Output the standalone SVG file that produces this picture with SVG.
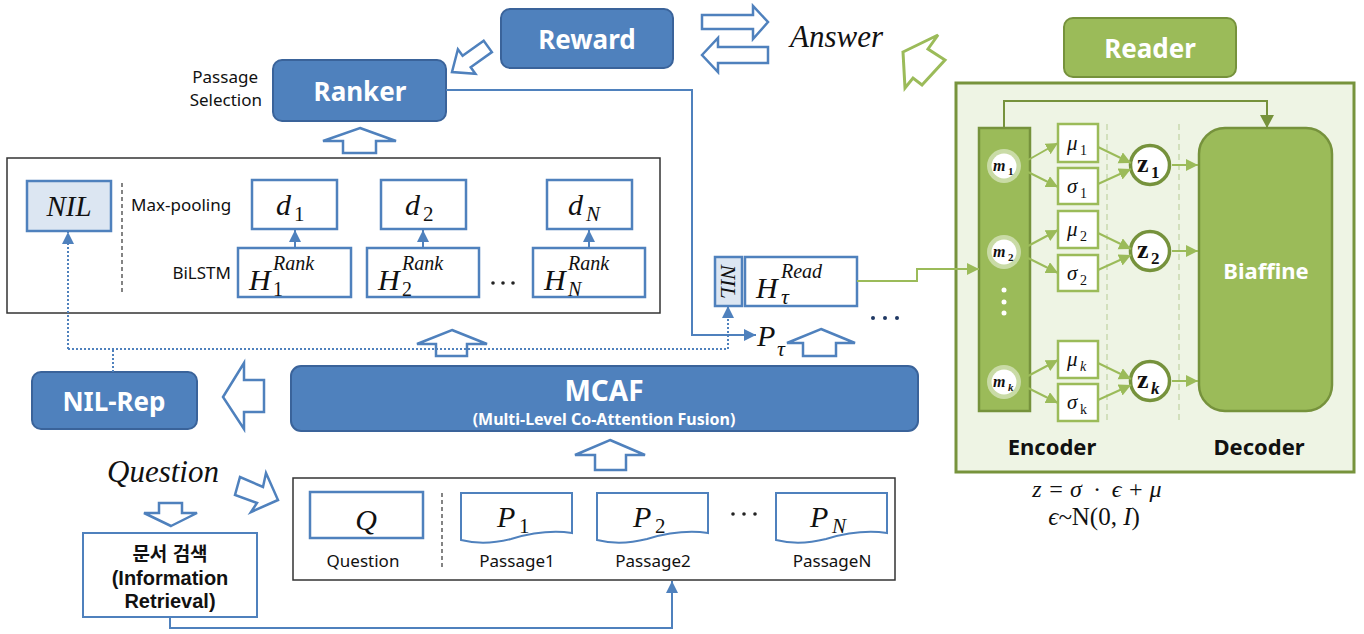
<svg xmlns="http://www.w3.org/2000/svg" width="1364" height="634" viewBox="0 0 1364 634">
  <style>
    .sans { font-family: "Noto Sans", "Noto Sans CJK KR", sans-serif; }
    .lbl { font-family: "Noto Sans", "Noto Sans CJK KR", sans-serif; font-size: 17px; fill: #111; }
    .bw { font-family: "Noto Sans", sans-serif; font-weight: bold; fill: #fff; text-anchor: middle; }
    .mi { font-family: "Liberation Serif", "DejaVu Serif", serif; font-style: italic; fill: #111; }
    .mu { font-family: "Liberation Serif", "DejaVu Serif", serif; fill: #111; }
    .ir { font-family: "Liberation Sans", "Noto Sans CJK KR", sans-serif; font-weight: bold; fill: #111; text-anchor: middle; }
    .bluebox { fill: #4F81BD; stroke: #3A639A; stroke-width: 2; }
    .node { fill: #fff; stroke: #4F81BD; stroke-width: 2.5; }
    .nilbox { fill: #DCE6F2; stroke: #4F81BD; stroke-width: 2.5; }
    .hollow { fill: #fff; stroke: #4F81BD; stroke-width: 2.5; stroke-linejoin: miter; }
    .hollowg { fill: #fff; stroke: #9BBB59; stroke-width: 3; }
    .frame { fill: #fff; stroke: #333; stroke-width: 1.5; }
    .blue { fill: none; stroke: #4F81BD; stroke-width: 2; }
    .dot { fill: none; stroke: #4F81BD; stroke-width: 2; stroke-dasharray: 2 2; }
    .gl { fill: none; stroke: #9BBB59; stroke-width: 2; }
    .gd { fill: none; stroke: #76923C; stroke-width: 2; }
    .gbox { fill: #fff; stroke: #9BBB59; stroke-width: 2.5; }
  </style>
  <defs>
    <marker id="ab" markerUnits="userSpaceOnUse" markerWidth="14" markerHeight="14" refX="12" refY="6" orient="auto">
      <path d="M0,0 L12,6 L0,12 z" fill="#4F81BD"/>
    </marker>
    <marker id="agl" markerUnits="userSpaceOnUse" markerWidth="14" markerHeight="14" refX="12" refY="6" orient="auto">
      <path d="M0,0 L12,6 L0,12 z" fill="#9BBB59"/>
    </marker>
    <marker id="agd" markerUnits="userSpaceOnUse" markerWidth="16" markerHeight="16" refX="13" refY="7" orient="auto">
      <path d="M0,0 L13,7 L0,14 z" fill="#76923C"/>
    </marker>
    <path id="doc" d="M0,0 H111 V40 C90,37 70,40 50,46 C30,51 12,50 0,47 Z" fill="#fff" stroke="#4F81BD" stroke-width="2"/>
  </defs>

  <!-- Reward / Answer exchange -->
  <g id="reward">
    <rect class="bluebox" x="501" y="9" width="172" height="59" rx="9"/>
    <text class="bw" x="587" y="49" font-size="26">Reward</text>
  </g>
  <g id="answer">
    <text class="mi" x="790" y="47" font-size="31">Answer</text>
  </g>
  <g id="ranker">
    <rect class="bluebox" x="273" y="60" width="173" height="61" rx="9"/>
    <text class="bw" x="360" y="101" font-size="26">Ranker</text>
    <text class="lbl" x="258" y="83" text-anchor="end">Passage</text>
    <text class="lbl" x="262" y="106" text-anchor="end">Selection</text>
  </g>

  <!-- hollow block arrows -->
  <g id="block-arrows">
    <polygon class="hollow" points="452,72 457.9,49.3 462.6,55.8 483.7,40.7 491.9,52.1 470.7,67.2 475.4,73.8"/>
    <polygon class="hollow" points="702,15 753,15 753,6 768,22 753,39 753,29 702,29"/>
    <polygon class="hollow" points="702,55 718,38 718,47 768,47 768,63 718,63 718,72"/>
    <polygon class="hollowg" points="903,52 938,35 928,49 945,60 922,85 913,78 905,88"/>
    <polygon class="hollow" points="360,128 396,141 376,141 376,153 343,153 343,141 323,141"/>
    <polygon class="hollow" points="452,330 487,344 467,344 467,356 436,356 436,344 417,344"/>
    <polygon class="hollow" points="821,329 855,343 836,343 836,356 803,356 803,343 787,343"/>
    <polygon class="hollow" points="610,440 645,455 626,455 626,470 595,470 595,455 575,455"/>
    <polygon class="hollow" points="223,397 244,363 244,380 264,380 264,412 244,412 244,429"/>
    <polygon class="hollow" points="171,526 197,513 182,513 182,503 159,503 159,513 144,513"/>
    <polygon class="hollow" points="278,500 251,512 257,503 235,495 240,477 263,487 266,473"/>
  </g>

  <!-- ranking block -->
  <g id="rank-block">
    <rect class="frame" x="7" y="158" width="653" height="155"/>
    <line x1="122" y1="183" x2="122" y2="295" stroke="#333" stroke-width="1.2" stroke-dasharray="4 3"/>
    <text class="lbl" x="131" y="211">Max-pooling</text>
    <text class="lbl" x="231" y="279" text-anchor="end">BiLSTM</text>
  </g>
  <g id="nil">
    <rect class="nilbox" x="27" y="181" width="84" height="50"/>
    <text class="mi" x="69" y="216" font-size="29" text-anchor="middle">NIL</text>
  </g>
  <g id="d1">
    <rect class="node" x="252" y="180" width="85" height="49"/>
    <text class="mi" x="276" y="215" font-size="30">d</text><text class="mu" x="294" y="221" font-size="21">1</text>
  </g>
  <g id="d2">
    <rect class="node" x="381" y="180" width="85" height="49"/>
    <text class="mi" x="405" y="215" font-size="30">d</text><text class="mu" x="423" y="221" font-size="21">2</text>
  </g>
  <g id="dN">
    <rect class="node" x="547" y="180" width="85" height="49"/>
    <text class="mi" x="568" y="215" font-size="30">d</text><text class="mi" x="586" y="221" font-size="21">N</text>
  </g>
  <g id="h1">
    <rect class="node" x="238" y="248" width="113" height="49"/>
    <text class="mi" x="249" y="290" font-size="30">H</text><text class="mi" x="273" y="270" font-size="20">Rank</text><text class="mu" x="273" y="296" font-size="20">1</text>
  </g>
  <g id="h2">
    <rect class="node" x="367" y="248" width="112" height="49"/>
    <text class="mi" x="378" y="290" font-size="30">H</text><text class="mi" x="402" y="270" font-size="20">Rank</text><text class="mu" x="402" y="296" font-size="20">2</text>
  </g>
  <g id="hN">
    <rect class="node" x="533" y="248" width="112" height="49"/>
    <text class="mi" x="544" y="290" font-size="30">H</text><text class="mi" x="568" y="270" font-size="20">Rank</text><text class="mi" x="568" y="296" font-size="20">N</text>
  </g>
  <g id="h-dots" fill="#222">
    <circle cx="493" cy="283" r="1.8"/><circle cx="503" cy="283" r="1.8"/><circle cx="513" cy="283" r="1.8"/>
  </g>

  <!-- reader input -->
  <g id="nil-read">
    <rect class="nilbox" x="715" y="257" width="27" height="49"/>
    <text class="mi" x="728.5" y="281.5" font-size="22" text-anchor="middle" dominant-baseline="central" transform="rotate(90 728.5 281.5)">NIL</text>
  </g>
  <g id="h-read">
    <rect class="node" x="745" y="257" width="112" height="49"/>
    <text class="mi" x="756" y="298" font-size="30">H</text><text class="mi" x="781" y="278" font-size="20">Read</text><text class="mi" x="781" y="304" font-size="22">τ</text>
  </g>
  <g id="read-dots" fill="#1F3864">
    <circle cx="873" cy="318" r="2"/><circle cx="885" cy="318" r="2"/><circle cx="897" cy="318" r="2"/>
  </g>
  <g id="p-tau">
    <text class="mi" x="757" y="346" font-size="30">P</text><text class="mi" x="777" y="356" font-size="22">τ</text>
  </g>

  <!-- fusion and NIL representation -->
  <g id="mcaf">
    <rect class="bluebox" x="291" y="366" width="627" height="65" rx="10"/>
    <text class="bw" x="604" y="401" font-size="28" font-family="Liberation Sans, sans-serif">MCAF</text>
    <text class="bw" x="604" y="425" font-size="16">(Multi-Level Co-Attention Fusion)</text>
  </g>
  <g id="nil-rep">
    <rect class="bluebox" x="32" y="372" width="165" height="57" rx="9"/>
    <text class="bw" x="114" y="411" font-size="26">NIL-Rep</text>
  </g>

  <!-- question and retrieval -->
  <g id="question">
    <text class="mi" x="107" y="482" font-size="31">Question</text>
  </g>
  <g id="retrieval">
    <rect x="83" y="533" width="174" height="84" fill="#fff" stroke="#4F81BD" stroke-width="2"/>
    <text class="ir" x="170" y="561" font-size="19" font-family="Noto Sans CJK KR, sans-serif">문서 검색</text>
    <text class="ir" x="170" y="585" font-size="20">(Information</text>
    <text class="ir" x="170" y="608" font-size="20">Retrieval)</text>
  </g>

  <!-- inputs -->
  <g id="inputs">
    <rect class="frame" x="293" y="478" width="602" height="102"/>
    <line x1="442" y1="493" x2="442" y2="567" stroke="#333" stroke-width="1.2" stroke-dasharray="4 3"/>
  </g>
  <g id="q">
    <rect class="node" x="310" y="492" width="113" height="46"/>
    <text class="mi" x="366" y="530" font-size="30" text-anchor="middle">Q</text>
    <text class="lbl" x="363" y="567" text-anchor="middle">Question</text>
  </g>
  <g id="p1">
    <use href="#doc" transform="translate(461,493)"/>
    <text class="mi" x="497" y="527" font-size="30">P</text><text class="mu" x="519" y="533" font-size="21">1</text>
    <text class="lbl" x="517" y="567" text-anchor="middle">Passage1</text>
  </g>
  <g id="p2">
    <use href="#doc" transform="translate(597,493)"/>
    <text class="mi" x="633" y="527" font-size="30">P</text><text class="mu" x="655" y="533" font-size="21">2</text>
    <text class="lbl" x="653" y="567" text-anchor="middle">Passage2</text>
  </g>
  <g id="p-dots" fill="#222">
    <circle cx="733" cy="514" r="1.8"/><circle cx="744" cy="514" r="1.8"/><circle cx="755" cy="514" r="1.8"/>
  </g>
  <g id="pN">
    <use href="#doc" transform="translate(776,493)"/>
    <text class="mi" x="810" y="527" font-size="30">P</text><text class="mi" x="832" y="533" font-size="21">N</text>
    <text class="lbl" x="832" y="567" text-anchor="middle">PassageN</text>
  </g>

  <!-- reader -->
  <g id="reader">
    <rect x="1064" y="18" width="172" height="59" rx="9" fill="#9BBB59" stroke="#76923C" stroke-width="2"/>
    <text class="bw" x="1150" y="58" font-size="26">Reader</text>
  </g>
  <g id="reader-panel">
    <rect x="956" y="83" width="398" height="389" fill="#EEF4E4" stroke="#77933C" stroke-width="3"/>
    <line x1="1107" y1="124" x2="1107" y2="422" stroke="#C9D9AE" stroke-width="1.5" stroke-dasharray="6 4"/>
    <line x1="1179" y1="124" x2="1179" y2="422" stroke="#C9D9AE" stroke-width="1.5" stroke-dasharray="6 4"/>
    <text class="sans" x="1052" y="455" font-size="22" font-weight="bold" text-anchor="middle" fill="#111">Encoder</text>
    <text class="sans" x="1259" y="455" font-size="22" font-weight="bold" text-anchor="middle" fill="#111">Decoder</text>
  </g>
  <g id="encoder">
    <rect x="979" y="128" width="51" height="283" fill="#9BBB59" stroke="#76923C" stroke-width="2.5"/>
    <circle cx="1004" cy="166" r="17" fill="#C9DBA6"/><circle cx="1004" cy="166" r="12.5" fill="#fff"/>
    <circle cx="1004" cy="252" r="17" fill="#C9DBA6"/><circle cx="1004" cy="252" r="12.5" fill="#fff"/>
    <circle cx="1004" cy="382" r="17" fill="#C9DBA6"/><circle cx="1004" cy="382" r="12.5" fill="#fff"/>
    <text class="mi" x="993" y="171" font-size="16" font-weight="bold">m</text><text class="mu" x="1008" y="175" font-size="11" font-weight="bold">1</text>
    <text class="mi" x="993" y="257" font-size="16" font-weight="bold">m</text><text class="mu" x="1008" y="261" font-size="11" font-weight="bold">2</text>
    <text class="mi" x="993" y="387" font-size="16" font-weight="bold">m</text><text class="mi" x="1008" y="391" font-size="11" font-weight="bold">k</text>
    <circle cx="1004" cy="290" r="2.5" fill="#fff"/><circle cx="1004" cy="302" r="2.5" fill="#fff"/><circle cx="1004" cy="313" r="2.5" fill="#fff"/>
  </g>
  <g id="mu-sigma">
    <rect class="gbox" x="1058" y="124" width="40" height="38"/>
    <rect class="gbox" x="1058" y="168" width="40" height="36"/>
    <rect class="gbox" x="1058" y="211" width="40" height="37"/>
    <rect class="gbox" x="1058" y="255" width="40" height="36"/>
    <rect class="gbox" x="1058" y="341" width="40" height="37"/>
    <rect class="gbox" x="1058" y="384" width="40" height="37"/>
    <text class="mi" x="1067" y="150" font-size="21">μ</text><text class="mu" x="1080" y="155" font-size="14">1</text>
    <text class="mi" x="1067" y="193" font-size="21">σ</text><text class="mu" x="1080" y="198" font-size="14">1</text>
    <text class="mi" x="1067" y="236" font-size="21">μ</text><text class="mu" x="1080" y="241" font-size="14">2</text>
    <text class="mi" x="1067" y="280" font-size="21">σ</text><text class="mu" x="1080" y="285" font-size="14">2</text>
    <text class="mi" x="1067" y="366" font-size="21">μ</text><text class="mi" x="1080" y="371" font-size="14">k</text>
    <text class="mi" x="1067" y="409" font-size="21">σ</text><text class="mu" x="1080" y="414" font-size="14">k</text>
  </g>
  <g id="z">
    <circle cx="1150" cy="165" r="19.5" fill="#fff" stroke="#76923C" stroke-width="3.5"/>
    <circle cx="1150" cy="251" r="19.5" fill="#fff" stroke="#76923C" stroke-width="3.5"/>
    <circle cx="1150" cy="381" r="19.5" fill="#fff" stroke="#76923C" stroke-width="3.5"/>
    <text class="mu" x="1137" y="172" font-size="26" font-weight="bold">z</text><text class="mu" x="1151" y="178" font-size="17" font-weight="bold">1</text>
    <text class="mu" x="1137" y="258" font-size="26" font-weight="bold">z</text><text class="mu" x="1151" y="264" font-size="17" font-weight="bold">2</text>
    <text class="mu" x="1137" y="388" font-size="26" font-weight="bold">z</text><text class="mi" x="1151" y="394" font-size="17" font-weight="bold">k</text>
  </g>
  <g id="biaffine">
    <rect x="1199" y="128" width="133" height="283" rx="26" fill="#9BBB59" stroke="#76923C" stroke-width="2.5"/>
    <text class="bw" x="1266" y="279" font-size="22">Biaffine</text>
  </g>
  <g id="formula">
    <text class="mi" x="1097" y="497" font-size="24" text-anchor="middle" xml:space="preserve">z = σ  ·  ϵ + μ</text>
    <text class="mi" x="1094" y="525" font-size="25" text-anchor="middle">ϵ~<tspan font-style="normal">N(0, </tspan>I<tspan font-style="normal">)</tspan></text>
  </g>

  <!-- connectors -->
  <g id="connectors">
    <path class="blue" d="M446,90 H692 V335 H756" marker-end="url(#ab)"/>
    <path class="dot" d="M113,372 V349"/>
    <path class="dot" d="M68,349 H728"/>
    <path class="dot" d="M68,349 V232" marker-end="url(#ab)"/>
    <path class="dot" d="M728,349 V306" marker-end="url(#ab)"/>
    <path class="blue" d="M170,617 V628 H672 V581" marker-end="url(#ab)"/>
    <path class="blue" d="M295,248 V230" marker-end="url(#ab)"/>
    <path class="blue" d="M423,248 V230" marker-end="url(#ab)"/>
    <path class="blue" d="M589,248 V230" marker-end="url(#ab)"/>
    <path class="gl" d="M857,281 H917 V269 H979" marker-end="url(#agl)"/>
    <path class="gd" d="M1004,128 V101 H1267 V128" marker-end="url(#agd)"/>
    <path class="gl" d="M1028,160 L1058,143" marker-end="url(#agl)"/>
    <path class="gl" d="M1028,172 L1058,187" marker-end="url(#agl)"/>
    <path class="gl" d="M1028,246 L1058,230" marker-end="url(#agl)"/>
    <path class="gl" d="M1028,258 L1058,273" marker-end="url(#agl)"/>
    <path class="gl" d="M1028,376 L1058,360" marker-end="url(#agl)"/>
    <path class="gl" d="M1028,388 L1058,403" marker-end="url(#agl)"/>
    <path class="gl" d="M1098,147 L1131,163" marker-end="url(#agl)"/>
    <path class="gl" d="M1098,184 L1131,169" marker-end="url(#agl)"/>
    <path class="gl" d="M1098,233 L1131,249" marker-end="url(#agl)"/>
    <path class="gl" d="M1098,270 L1131,255" marker-end="url(#agl)"/>
    <path class="gl" d="M1098,363 L1131,379" marker-end="url(#agl)"/>
    <path class="gl" d="M1098,400 L1131,385" marker-end="url(#agl)"/>
    <path class="gl" d="M1172,165 H1198" marker-end="url(#agl)"/>
    <path class="gl" d="M1172,251 H1198" marker-end="url(#agl)"/>
    <path class="gl" d="M1172,381 H1198" marker-end="url(#agl)"/>
  </g>
</svg>
